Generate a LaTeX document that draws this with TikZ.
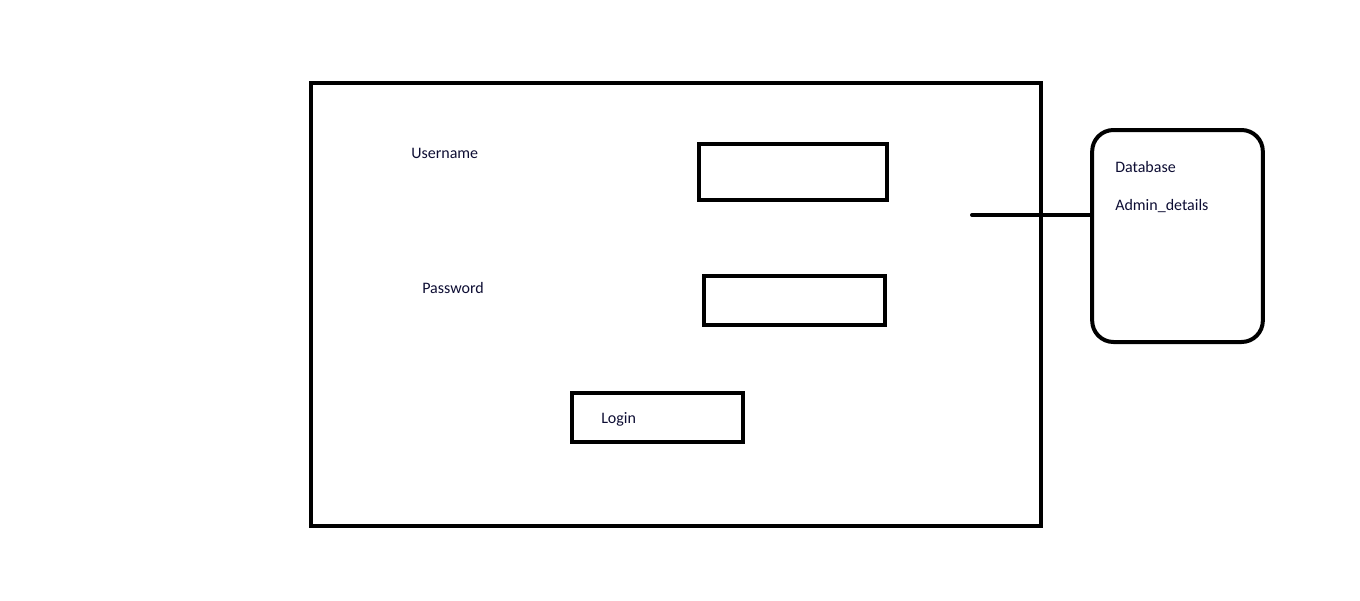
\documentclass[tikz,border=0pt]{standalone}
\usepackage{fontspec}
\setmainfont{Carlito}
\usetikzlibrary{positioning}
\definecolor{labelink}{rgb}{0.05,0.05,0.2}
\tikzstyle{box}=[draw=black,line width=3pt]
\tikzstyle{lbl}=[inner sep=0pt,anchor=mid west,text=labelink,font=\fontsize{12}{14}\selectfont]
\newcommand{\lbl}[3]{\node[lbl] (#1) at (#2) {#3};}

\begin{document}
\begin{tikzpicture}[x=0.75pt,y=-0.75pt]
    \useasboundingbox (0,0) rectangle (1360,600);
    % login form
    \draw[box] (311,83) rectangle (1041,526);
    \draw[box] (699,144) rectangle (887,200);
    \draw[box] (704,276) rectangle (885,325);
    \draw[box] (572,393) rectangle (743,442);
    \lbl{user}{411,155}{Username}
    \lbl{pass}{422,290}{Password}
    \lbl{login}{601,420}{Login}
    
    % database
    \node[box,rounded corners=16pt,minimum width=128pt,minimum height=159pt,inner sep=0pt] (db) at (1177.5,236) {};
    \lbl{dbname}{1115,169}{Database}
    \lbl{table}{1115,207}{Admin\_details}
    
    \coordinate (link) at (972,215);
    \draw[line width=3pt,line cap=round] (link) -- (link -| db.west);
\end{tikzpicture}
\end{document}
